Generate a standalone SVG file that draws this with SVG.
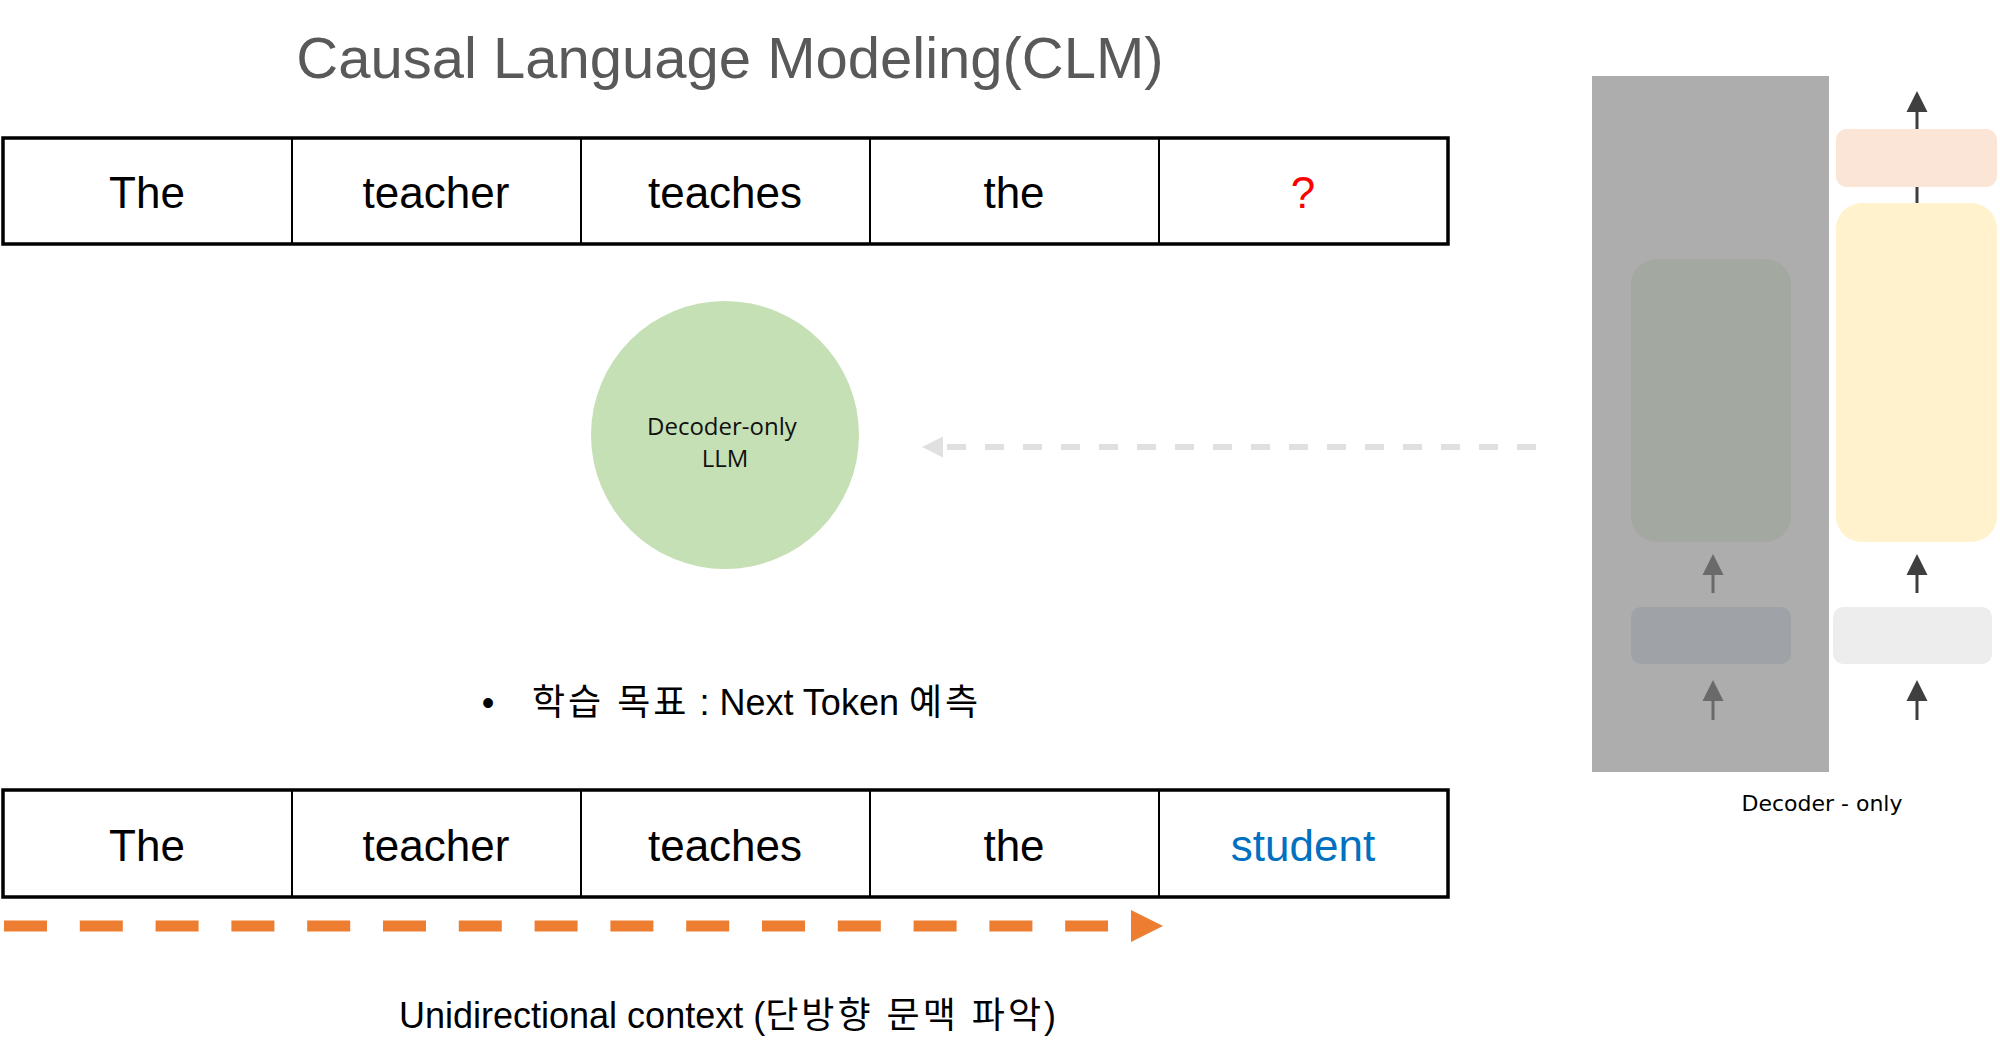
<svg xmlns="http://www.w3.org/2000/svg" width="2000" height="1058" viewBox="0 0 2000 1058">
<style>
  .sans { font-family: "Liberation Sans", "Noto Sans CJK KR", sans-serif; }
  .tok { font-family: "Liberation Sans", "Noto Sans CJK KR", sans-serif; font-size: 44px; text-anchor: middle; fill: #000; }
  .tok.red { fill: #ff0000; }
  .tok.blue { fill: #0070c0; }
  .ko { letter-spacing: 3px; }
  .cell { fill: #fff; stroke: #000; stroke-width: 2; }
  .frame { fill: none; stroke: #000; stroke-width: 3.5; }
  .arrDark { stroke: #3f3f3f; stroke-width: 3; fill: none; }
  .headDark { fill: #3f3f3f; }
  .arrDim { stroke: #6a6a6a; stroke-width: 3; fill: none; }
  .headDim { fill: #6a6a6a; }
</style>
<rect width="2000" height="1058" fill="#fff"/>

<text id="title" class="sans" x="730" y="78" font-size="58" text-anchor="middle" fill="#595959">Causal Language Modeling(CLM)</text>

<g id="top-table">
  <rect class="cell" x="3" y="138" width="289" height="106"/>
  <rect class="cell" x="292" y="138" width="289" height="106"/>
  <rect class="cell" x="581" y="138" width="289" height="106"/>
  <rect class="cell" x="870" y="138" width="289" height="106"/>
  <rect class="cell" x="1159" y="138" width="289" height="106"/>
  <rect class="frame" x="3" y="138" width="1445" height="106"/>
  <text class="tok" x="147" y="208">The</text>
  <text class="tok" x="436" y="208">teacher</text>
  <text class="tok" x="725" y="208">teaches</text>
  <text class="tok" x="1014" y="208">the</text>
  <text class="tok red" x="1303" y="208">?</text>
</g>

<g id="llm">
  <circle cx="725" cy="435" r="134" fill="#c5e0b4"/>
  <text font-family="'Open Sans', 'Noto Sans', sans-serif" font-size="24" text-anchor="middle" fill="#111">
    <tspan x="725" y="435">Decoder-only</tspan>
    <tspan x="725" y="467">LLM</tspan>
  </text>
</g>

<g id="objective">
  <text class="sans" x="488" y="715" font-size="36" text-anchor="middle" fill="#000">•</text>
  <text class="sans" x="532" y="715" font-size="36" fill="#000"><tspan class="ko">학습 목표</tspan> : Next Token <tspan class="ko">예측</tspan></text>
</g>

<g id="bottom-table">
  <rect class="cell" x="3" y="790" width="289" height="107"/>
  <rect class="cell" x="292" y="790" width="289" height="107"/>
  <rect class="cell" x="581" y="790" width="289" height="107"/>
  <rect class="cell" x="870" y="790" width="289" height="107"/>
  <rect class="cell" x="1159" y="790" width="289" height="107"/>
  <rect class="frame" x="3" y="790" width="1445" height="107"/>
  <text class="tok" x="147" y="861">The</text>
  <text class="tok" x="436" y="861">teacher</text>
  <text class="tok" x="725" y="861">teaches</text>
  <text class="tok" x="1014" y="861">the</text>
  <text class="tok blue" x="1303" y="861">student</text>
</g>

<text id="context-label" class="sans" x="399" y="1028" font-size="36" fill="#000">Unidirectional context (<tspan class="ko">단방향 문맥 파악</tspan>)</text>

<g id="decoder-panel">
  <rect x="1592" y="76" width="237" height="696" fill="#adadad"/>
  <rect x="1631" y="259" width="160" height="283" rx="26" fill="#a3a8a0"/>
  <rect x="1631" y="607" width="160" height="57" rx="10" fill="#9fa3a7"/>
</g>

<g id="decoder-column">
  <line class="arrDark" x1="1917" y1="203" x2="1917" y2="108"/>
  <rect x="1836" y="129" width="161" height="58" rx="11" fill="#fbe5d6"/>
  <rect x="1836" y="203" width="161" height="339" rx="26" fill="#fff2cc"/>
  <rect x="1833" y="607" width="159" height="57" rx="10" fill="#ededed"/>
</g>

<g id="connectors">
  <polygon class="headDark" points="1917,91 1906.5,112 1927.5,112"/>
  <line class="arrDark" x1="1917" y1="593" x2="1917" y2="572"/>
  <polygon class="headDark" points="1917,554 1906.5,575 1927.5,575"/>
  <line class="arrDark" x1="1917" y1="720" x2="1917" y2="698"/>
  <polygon class="headDark" points="1917,680 1906.5,701 1927.5,701"/>

  <line class="arrDim" x1="1713" y1="593" x2="1713" y2="572"/>
  <polygon class="headDim" points="1713,554 1702.5,575 1723.5,575"/>
  <line class="arrDim" x1="1713" y1="720" x2="1713" y2="698"/>
  <polygon class="headDim" points="1713,680 1702.5,701 1723.5,701"/>

  <line x1="1536" y1="447" x2="943" y2="447" stroke="#e0e0e0" stroke-width="6" stroke-dasharray="19 19"/>
  <polygon points="922,447 943,436.5 943,457.5" fill="#e0e0e0"/>

  <line x1="4" y1="926" x2="1108" y2="926" stroke="#ed7d31" stroke-width="11" stroke-dasharray="43 32.8"/>
  <polygon points="1131,910 1163,926 1131,942" fill="#ed7d31"/>
</g>

<text id="decoder-label" x="1822" y="811" font-family="'DejaVu Sans', Verdana, sans-serif" font-size="22" text-anchor="middle" fill="#000">Decoder - only</text>
</svg>
